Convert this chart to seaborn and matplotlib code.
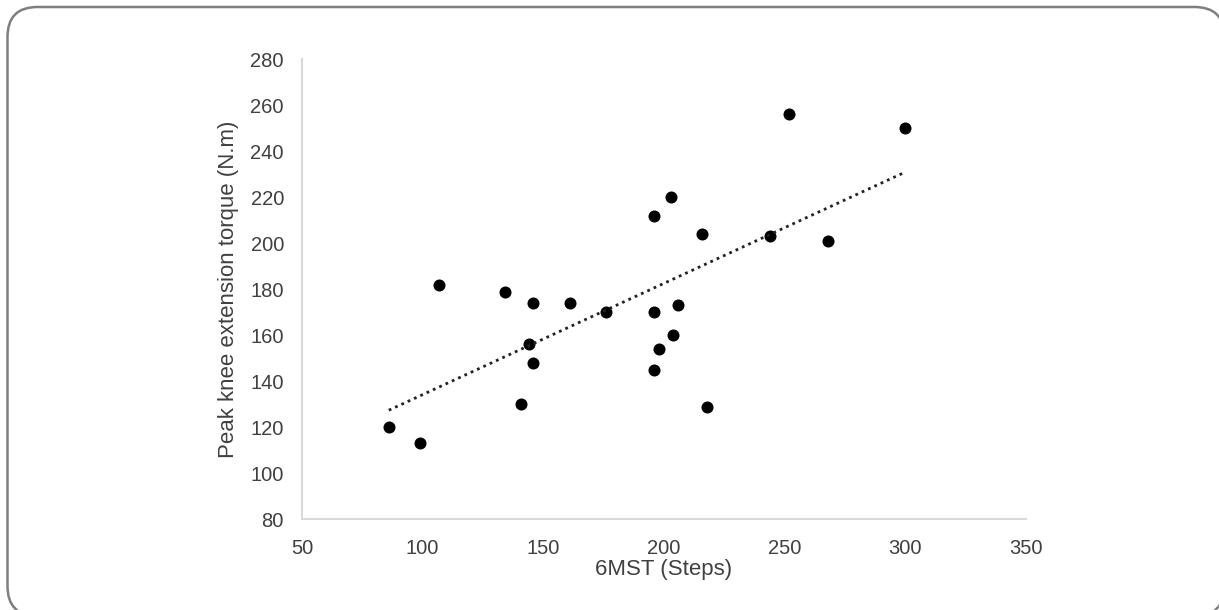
import numpy as np
import pandas as pd
import matplotlib
matplotlib.use('Agg')
import matplotlib.pyplot as plt
import seaborn as sns
from matplotlib.patches import FancyBboxPatch
from matplotlib.transforms import IdentityTransform

# values
steps = [86, 99, 107, 134, 141, 144, 146, 146, 161, 176, 196, 196, 196,
         198, 203, 204, 206, 216, 218, 244, 252, 268, 300]
torque = [120, 113, 182, 179, 130, 156, 174, 148, 174, 170, 212, 170, 145,
          154, 220, 160, 173, 204, 129, 203, 256, 201, 250]

df = pd.DataFrame({'6MST (Steps)': steps, 'Peak knee extension torque (N.m)': torque})

sns.set_theme(style="white")
plt.rcParams['font.family'] = ['Liberation Sans', 'DejaVu Sans']

fig = plt.figure(figsize=(12.19, 6.10), dpi=100)
ax = fig.add_axes([0.2477, 0.1487, 0.5936, 0.7541])
ax.patch.set_visible(False)

sns.regplot(data=df, x='6MST (Steps)', y='Peak knee extension torque (N.m)',
            ax=ax, ci=None, truncate=True,
            scatter_kws={'s': 75, 'color': 'black', 'alpha': 1, 'linewidths': 0},
            line_kws={'color': '#222222', 'linestyle': (0, (1, 1.5)), 'linewidth': 2})

ax.set_xlim(50, 350)
ax.set_ylim(80, 280)
ax.set_xticks(range(50, 351, 50))
ax.set_yticks(range(80, 281, 20))
ax.tick_params(axis='both', length=0, labelsize=14.5, colors='#404040')
ax.tick_params(axis='x', pad=14)
ax.tick_params(axis='y', pad=13)
ax.set_xlabel('6MST (Steps)', fontsize=16, color='#404040', labelpad=1)
ax.set_ylabel('Peak knee extension torque (N.m)', fontsize=16, color='#404040', labelpad=8)

for side in ['top', 'right']:
    ax.spines[side].set_visible(False)
for side in ['left', 'bottom']:
    ax.spines[side].set_color('#d9d9d9')
    ax.spines[side].set_linewidth(1.5)

# rounded outer frame, running off the right and bottom edges like the reference
frame = FancyBboxPatch((7.5, -6), 1217, 609, boxstyle="round,pad=0,rounding_size=30",
                       transform=IdentityTransform(), facecolor='white',
                       edgecolor='#7f7f7f', linewidth=1.8, zorder=-1)
fig.add_artist(frame)

fig.savefig('out.png', dpi=100)
